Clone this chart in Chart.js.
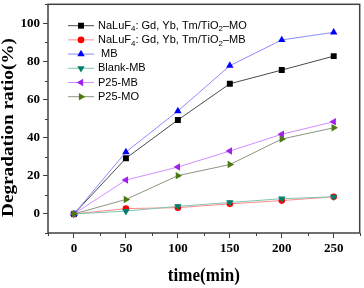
<!DOCTYPE html>
<html><head><meta charset="utf-8">
<script src="https://cdn.jsdelivr.net/npm/chart.js@4/dist/chart.umd.min.js"></script>
<style>html,body{margin:0;padding:0;background:#fff}</style>
</head><body>
<canvas id="c" width="364" height="288"></canvas>
<script>
const times = [0, 50, 100, 150, 200, 250];
const seriesLabels = [
  'NaLuF₄: Gd, Yb, Tm/TiO₂–MO',
  'NaLuF₄: Gd, Yb, Tm/TiO₂–MB',
  ' MB',
  'Blank-MB',
  'P25-MB',
  'P25-MO'
];
const moValues     = [0, 29.2, 49.3, 68.3, 75.5, 82.8];
const mbCatValues  = [0, 2.8, 3.3, 5.3, 7.0, 9.0];
const mbValues     = [0, 32.5, 54.0, 77.8, 91.3, 95.3];
const blankValues  = [0, 1.5, 4.0, 6.0, 8.0, 9.0];
const p25mbValues  = [0, 17.8, 24.6, 33.0, 41.8, 48.4];
const p25moValues  = [0, 7.6, 20.1, 25.9, 39.3, 45.2];
const xTicks = [0, 50, 100, 150, 200, 250];
const yTicks = [0, 20, 40, 60, 80, 100];
const xMinorTicks = [-25, 25, 75, 125, 175, 225, 275];
const yMinorTicks = [-10, 10, 30, 50, 70, 90, 110];
const xTitle = 'time(min)';
const yTitle = 'Degradation ratio(%)';

const allValues = [moValues, mbCatValues, mbValues, blankValues, p25mbValues, p25moValues];
const styles = [
  {line:'#4a4a4a', mark:'#000000', pointStyle:'rect', rotation:0, radius:4.2},
  {line:'#ff8a8a', mark:'#ff0000', pointStyle:'circle', rotation:0, radius:3.3},
  {line:'#8a8aff', mark:'#0000ff', pointStyle:'triangle', rotation:0, radius:4.3},
  {line:'#80c4b2', mark:'#00806c', pointStyle:'triangle', rotation:180, radius:4.3},
  {line:'#d28cff', mark:'#a020f0', pointStyle:'triangle', rotation:-90, radius:4.3},
  {line:'#8c9680', mark:'#4a7a10', pointStyle:'triangle', rotation:90, radius:4.3}
];

const datasets = allValues.map((vals, i) => ({
  label: seriesLabels[i],
  data: times.map((t, j) => ({x: t, y: vals[j]})),
  borderColor: styles[i].line,
  borderWidth: 1,
  backgroundColor: styles[i].mark,
  pointBackgroundColor: styles[i].mark,
  pointBorderColor: styles[i].mark,
  pointBorderWidth: 0,
  pointStyle: styles[i].pointStyle,
  pointRotation: styles[i].rotation,
  pointRadius: styles[i].radius,
  tension: 0,
  order: 6 - i
}));

const SERIF = '"Liberation Serif", "Times New Roman", serif';

function drawRich(ctx, text, x, y, size) {
  let cx = x;
  for (const ch of text) {
    const sub = ch === '₄' || ch === '₂';
    const t = sub ? (ch === '₄' ? '4' : '2') : ch;
    ctx.font = (sub ? size * 0.72 : size) + 'px "Liberation Sans", Arial, sans-serif';
    ctx.fillText(t, cx, sub ? y + 3.5 : y);
    cx += ctx.measureText(t).width;
  }
}

function drawFitted(ctx, text, cx, cy, len, size, rot) {
  ctx.save();
  ctx.font = 'bold ' + size + 'px ' + SERIF;
  const w = ctx.measureText(text).width;
  ctx.translate(cx, cy);
  ctx.rotate(rot);
  ctx.scale(len / w, 1);
  ctx.textAlign = 'center';
  ctx.textBaseline = 'middle';
  ctx.fillStyle = '#000';
  ctx.fillText(text, 0, 0);
  ctx.restore();
}

const framePlugin = {
  id: 'frame',
  afterDraw(chart) {
    const ctx = chart.ctx;
    const a = chart.chartArea;
    const xs = chart.scales.x, ys = chart.scales.y;
    ctx.save();
    ctx.strokeStyle = '#404040';
    ctx.lineWidth = 1.5;
    ctx.strokeRect(a.left, a.top, a.right - a.left, a.bottom - a.top);
    ctx.lineWidth = 1;
    ctx.beginPath();
    xMinorTicks.forEach(v => { const px = Math.round(xs.getPixelForValue(v)) + 0.5; ctx.moveTo(px, a.bottom); ctx.lineTo(px, a.bottom + 3); });
    yMinorTicks.forEach(v => { const py = Math.round(ys.getPixelForValue(v)) + 0.5; ctx.moveTo(a.left, py); ctx.lineTo(a.left - 3, py); });
    ctx.stroke();
    // axis titles
    drawFitted(ctx, yTitle, 8.5, 127.5, 179, 17, -Math.PI / 2);
    drawFitted(ctx, xTitle, (a.left + a.right) / 2, 276.5, 72, 18, 0);
    // legend
    const lx0 = 68, lx1 = 94, mx = 81, tx = 98, y0 = 25.7, dy = 14.2;
    chart.data.datasets.forEach((ds, i) => {
      const y = y0 + i * dy;
      ctx.strokeStyle = ds.borderColor;
      ctx.lineWidth = 1;
      ctx.beginPath(); ctx.moveTo(lx0, y); ctx.lineTo(lx1, y); ctx.stroke();
      ctx.fillStyle = ds.pointBackgroundColor;
      ctx.strokeStyle = ds.pointBorderColor;
      Chart.helpers.drawPoint(ctx, {pointStyle: ds.pointStyle, rotation: ds.pointRotation, radius: ds.pointRadius, borderWidth: 0}, mx, y);
      ctx.fillStyle = '#000';
      ctx.textBaseline = 'middle';
      ctx.textAlign = 'left';
      drawRich(ctx, ds.label, tx, y, 11);
    });
    ctx.restore();
  }
};

new Chart(document.getElementById('c'), {
  type: 'line',
  data: {datasets},
  plugins: [framePlugin],
  options: {
    responsive: false,
    animation: false,
    layout: {padding: {top: 0, right: 3, left: 0, bottom: 0}},
    plugins: {legend: {display: false}, tooltip: {enabled: false}},
    scales: {
      x: {
        type: 'linear', min: -25, max: 275,
        afterBuildTicks: s => { s.ticks = xTicks.map(v => ({value: v})); },
        afterFit: s => { s.height = 55; s.paddingLeft = 0; s.paddingRight = 0; },
        border: {display: false},
        grid: {drawOnChartArea: false, tickLength: 5, color: '#404040', tickWidth: 1},
        ticks: {color: '#000', padding: 3, font: {family: SERIF, weight: 'bold', size: 13}, maxRotation: 0},
        title: {display: false}
      },
      y: {
        type: 'linear', min: -10, max: 110,
        afterBuildTicks: s => { s.ticks = yTicks.map(v => ({value: v})); },
        afterFit: s => { s.width = 48; s.paddingTop = 0; s.paddingBottom = 0; },
        border: {display: false},
        grid: {drawOnChartArea: false, tickLength: 5, color: '#404040', tickWidth: 1},
        ticks: {color: '#000', padding: 3, font: {family: SERIF, weight: 'bold', size: 13}},
        title: {display: false}
      }
    }
  }
});
</script>
</body></html>
